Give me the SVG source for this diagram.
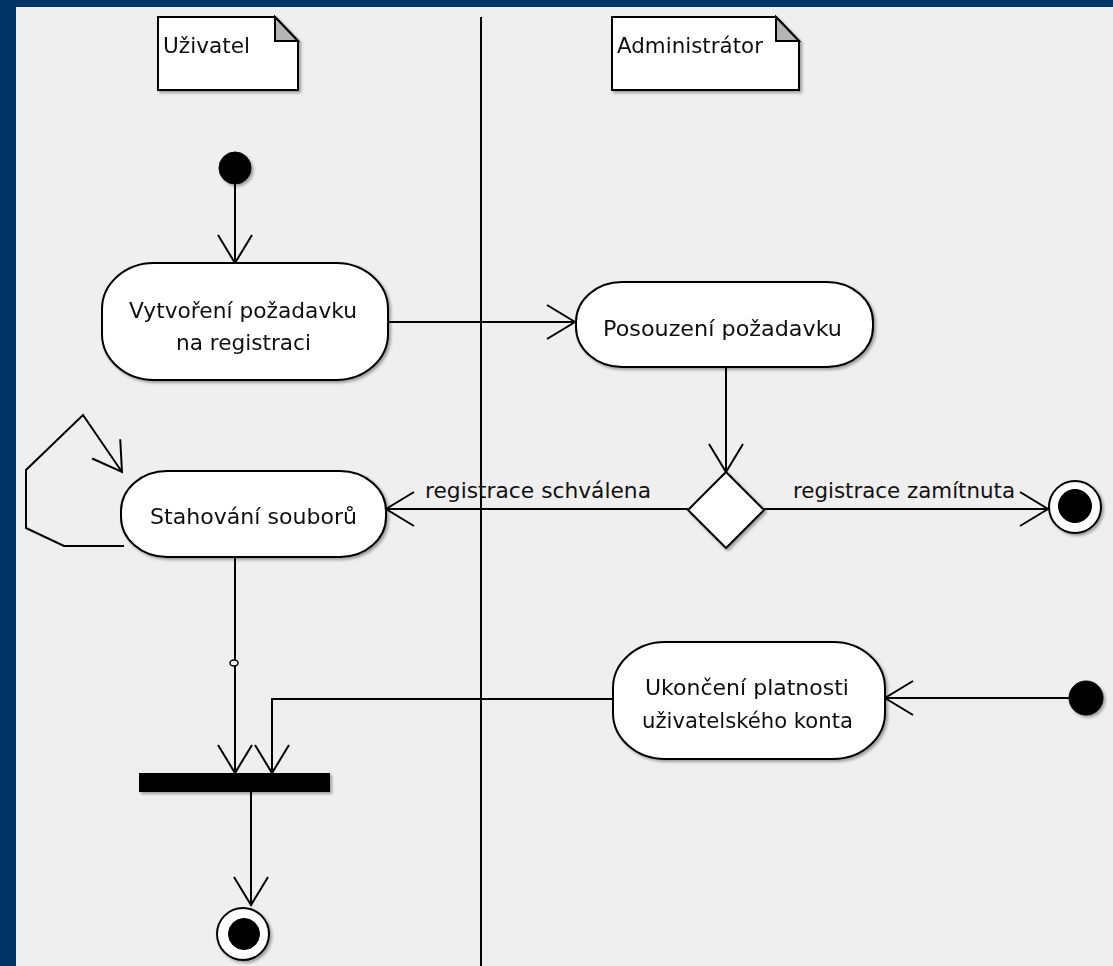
<svg xmlns="http://www.w3.org/2000/svg" width="1113" height="966" viewBox="0 0 1113 966">
  <defs>
    <style>
      .txt { font-family: "DejaVu Sans", "Liberation Sans", sans-serif; font-size: 21px; fill: #111; }
      .node { fill: #fff; stroke: #000; stroke-width: 2; }
      .line { fill: none; stroke: #000; stroke-width: 2; }
      .solid { fill: #000; stroke: #000; stroke-width: 1; }
      .fold { fill: #b4b4b4; stroke: #000; stroke-width: 2; stroke-linejoin: miter; }
    </style>
    <filter id="shadow" x="-20%" y="-20%" width="140%" height="140%">
      <feDropShadow dx="2" dy="2" stdDeviation="1.5" flood-color="#000" flood-opacity="0.35"/>
    </filter>
    <marker id="open" viewBox="-35 -20 40 40" markerWidth="40" markerHeight="40" refX="0" refY="0" orient="auto" markerUnits="userSpaceOnUse" overflow="visible">
      <path d="M-28,-17 L0,0 L-28,17" fill="none" stroke="#000" stroke-width="2"/>
    </marker>
  </defs>

  <!-- window frame and canvas -->
  <rect x="0" y="0" width="1113" height="966" fill="#003366"/>
  <rect x="16" y="7" width="1097" height="959" fill="#efefef"/>

  <!-- swimlane divider -->
  <line x1="481" y1="17" x2="481" y2="966" stroke="#000" stroke-width="2"/>

  <!-- swimlane notes -->
  <g id="note-uzivatel" filter="url(#shadow)">
    <path class="node" d="M158,17 H275 L298,41 V90 H158 Z"/>
    <path class="fold" d="M275,17 V41 H298 Z"/>
    <text class="txt" x="163" y="53" textLength="87" lengthAdjust="spacingAndGlyphs">Uživatel</text>
  </g>
  <g id="note-administrator" filter="url(#shadow)">
    <path class="node" d="M612,17 H776 L799,41 V90 H612 Z"/>
    <path class="fold" d="M776,17 V41 H799 Z"/>
    <text class="txt" x="617" y="53" textLength="146" lengthAdjust="spacingAndGlyphs">Administrátor</text>
  </g>

  <!-- connectors -->
  <g id="connectors">
    <line class="line" x1="235" y1="184" x2="235" y2="263" marker-end="url(#open)"/>
    <line class="line" x1="388" y1="322" x2="575" y2="322" marker-end="url(#open)"/>
    <line class="line" x1="726" y1="367" x2="726" y2="472" marker-end="url(#open)"/>
    <line class="line" x1="688" y1="509" x2="386" y2="509" marker-end="url(#open)"/>
    <line class="line" x1="764" y1="509" x2="1048" y2="509" marker-end="url(#open)"/>
    <polyline class="line" points="124,546 64,546 26,528 26,470 83,415 122,472" marker-end="url(#open)"/>
    <line class="line" x1="235" y1="557" x2="235" y2="773" marker-end="url(#open)"/>
    <polyline class="line" points="613,699 272,699 272,773" marker-end="url(#open)"/>
    <line class="line" x1="1069" y1="698" x2="885" y2="698" marker-end="url(#open)"/>
    <line class="line" x1="251" y1="792" x2="251" y2="905" marker-end="url(#open)"/>
    <ellipse cx="234" cy="663" rx="4" ry="3" fill="#fff" stroke="#000" stroke-width="1.5"/>
    <text class="txt" x="425" y="498" textLength="226" lengthAdjust="spacingAndGlyphs">registrace schválena</text>
    <text class="txt" x="793" y="498" textLength="222" lengthAdjust="spacingAndGlyphs">registrace zamítnuta</text>
  </g>

  <!-- user lane -->
  <g id="start-user" filter="url(#shadow)">
    <circle class="solid" cx="235" cy="168" r="16"/>
  </g>
  <g id="action-vytvoreni" filter="url(#shadow)">
    <rect class="node" x="102" y="263" width="286" height="117" rx="52" ry="46"/>
    <text class="txt" x="129" y="318" textLength="228" lengthAdjust="spacingAndGlyphs">Vytvoření požadavku</text>
    <text class="txt" x="176" y="350" textLength="135" lengthAdjust="spacingAndGlyphs">na registraci</text>
  </g>
  <g id="action-stahovani" filter="url(#shadow)">
    <rect class="node" x="121" y="471" width="265" height="86" rx="46" ry="40"/>
    <text class="txt" x="150" y="524" textLength="207" lengthAdjust="spacingAndGlyphs">Stahování souborů</text>
  </g>
  <g id="join-bar" filter="url(#shadow)">
    <rect x="139" y="773" width="191" height="19" fill="#000"/>
  </g>
  <g id="end-user" filter="url(#shadow)">
    <circle cx="243" cy="934" r="26" fill="#fff" stroke="#000" stroke-width="2"/>
    <circle class="solid" cx="244" cy="934" r="15.5"/>
  </g>

  <!-- administrator lane -->
  <g id="action-posouzeni" filter="url(#shadow)">
    <rect class="node" x="576" y="282" width="297" height="85" rx="46" ry="40"/>
    <text class="txt" x="603" y="336" textLength="239" lengthAdjust="spacingAndGlyphs">Posouzení požadavku</text>
  </g>
  <g id="decision" filter="url(#shadow)">
    <polygon class="node" points="726,472 764,510 726,548 688,510"/>
  </g>
  <g id="end-rejected" filter="url(#shadow)">
    <circle cx="1075" cy="507" r="26" fill="#fff" stroke="#000" stroke-width="2"/>
    <circle class="solid" cx="1075" cy="506" r="16.5"/>
  </g>
  <g id="start-admin" filter="url(#shadow)">
    <circle class="solid" cx="1086" cy="698" r="17"/>
  </g>
  <g id="action-ukonceni" filter="url(#shadow)">
    <rect class="node" x="613" y="642" width="272" height="117" rx="52" ry="46"/>
    <text class="txt" x="645" y="695" textLength="204" lengthAdjust="spacingAndGlyphs">Ukončení platnosti</text>
    <text class="txt" x="642" y="728" textLength="211" lengthAdjust="spacingAndGlyphs">uživatelského konta</text>
  </g>
</svg>
